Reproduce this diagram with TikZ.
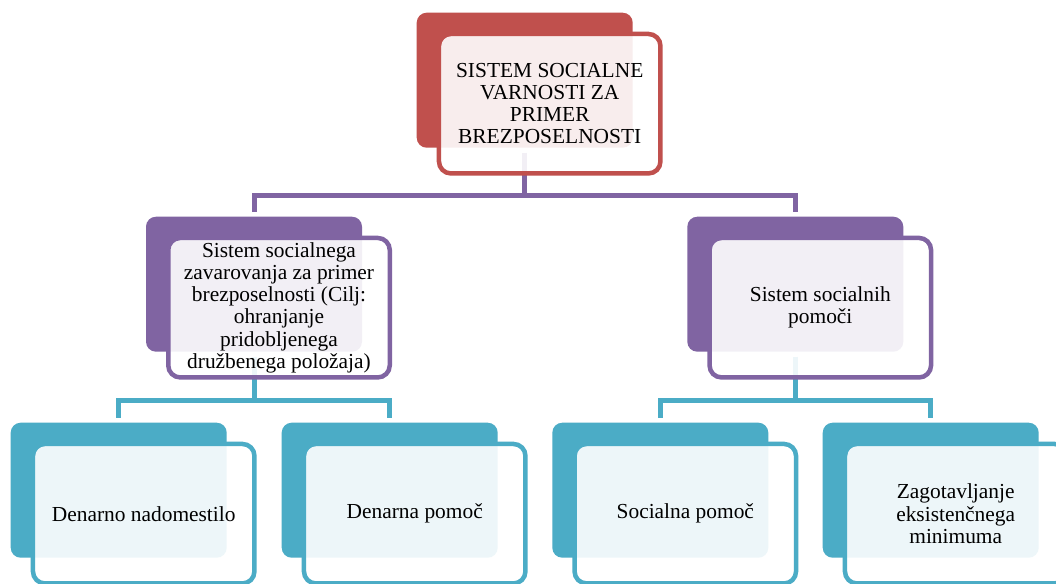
\documentclass[tikz,border=0pt]{standalone}
\usepackage{fontspec}
\setmainfont{Liberation Serif}
\newfontfamily\boxfont{Liberation Serif}
\usetikzlibrary{backgrounds}
\definecolor{cred}{HTML}{C0504D}
\definecolor{cpurple}{HTML}{8064A2}
\definecolor{cteal}{HTML}{4BACC6}
\begin{document}
\begin{tikzpicture}[x=1pt,y=-1pt,
  solidbox/.style={rectangle, rounded corners=10pt, inner sep=0pt, minimum width=216pt, minimum height=135pt},
  framebox/.style={rectangle, rounded corners=12pt, line width=4.5pt, fill=white, fill opacity=0.9, text opacity=1,
    minimum width=221.5pt, minimum height=139.5pt, align=center, inner sep=2pt,
    font=\boxfont\fontsize{21.4pt}{22.2pt}\selectfont},
  conn/.style={line width=5pt}]
\useasboundingbox (0,0) rectangle (1056,583);

% level 1
\node[solidbox, fill=cred] (f0) at (524.7,80.2) {};
\node[framebox, draw=cred] (o0) at (549.7,103.7) {SISTEM SOCIALNE\\VARNOSTI ZA\\PRIMER\\BREZPOSELNOSTI};

% level 2
\node[solidbox, fill=cpurple] (fL) at (254,284.2) {};
\node[framebox, draw=cpurple] (oL) at (279,307.7) {Sistem socialnega\\zavarovanja za primer\\brezposelnosti (Cilj:\\ohranjanje\\pridobljenega\\družbenega položaja)};
\node[solidbox, fill=cpurple] (fR) at (795.3,284.2) {};
\node[framebox, draw=cpurple] (oR) at (820.3,307.7) {Sistem socialnih\\pomoči};

% level 3
\node[solidbox, fill=cteal] (g1) at (118.7,490.2) {};
\node[framebox, draw=cteal] (p1) at (143.7,513.7) {Denarno nadomestilo};
\node[solidbox, fill=cteal] (g2) at (389.7,490.2) {};
\node[framebox, draw=cteal] (p2) at (414.7,513.7) {Denarna pomoč};
\node[solidbox, fill=cteal] (g3) at (660.3,490.2) {};
\node[framebox, draw=cteal] (p3) at (685.3,513.7) {Socialna pomoč};
\node[solidbox, fill=cteal] (g4) at (930.7,490.2) {};
\node[framebox, draw=cteal] (p4) at (955.7,513.7) {Zagotavljanje\\eksistenčnega\\minimuma};

\coordinate (j1) at (524.7,195);
\coordinate (j2) at (254,400);
\coordinate (j3) at (795.3,400);

\begin{scope}[on background layer]
\fill[white] (0,0) rectangle (1056,583);
\draw[conn, draw=cpurple, shorten <=5pt] (f0.south) -- (j1);
\draw[conn, draw=cpurple, shorten <=5pt, shorten >=5pt] (fL.north) |- (j1) -| (fR.north);
\draw[conn, draw=cteal, shorten <=5pt] (fL.south) -- (j2);
\draw[conn, draw=cteal, shorten <=5pt, shorten >=5pt] (g1.north) |- (j2) -| (g2.north);
\draw[conn, draw=cteal, shorten <=5pt] (fR.south) -- (j3);
\draw[conn, draw=cteal, shorten <=5pt, shorten >=5pt] (g3.north) |- (j3) -| (g4.north);
\end{scope}
\end{tikzpicture}
\end{document}
